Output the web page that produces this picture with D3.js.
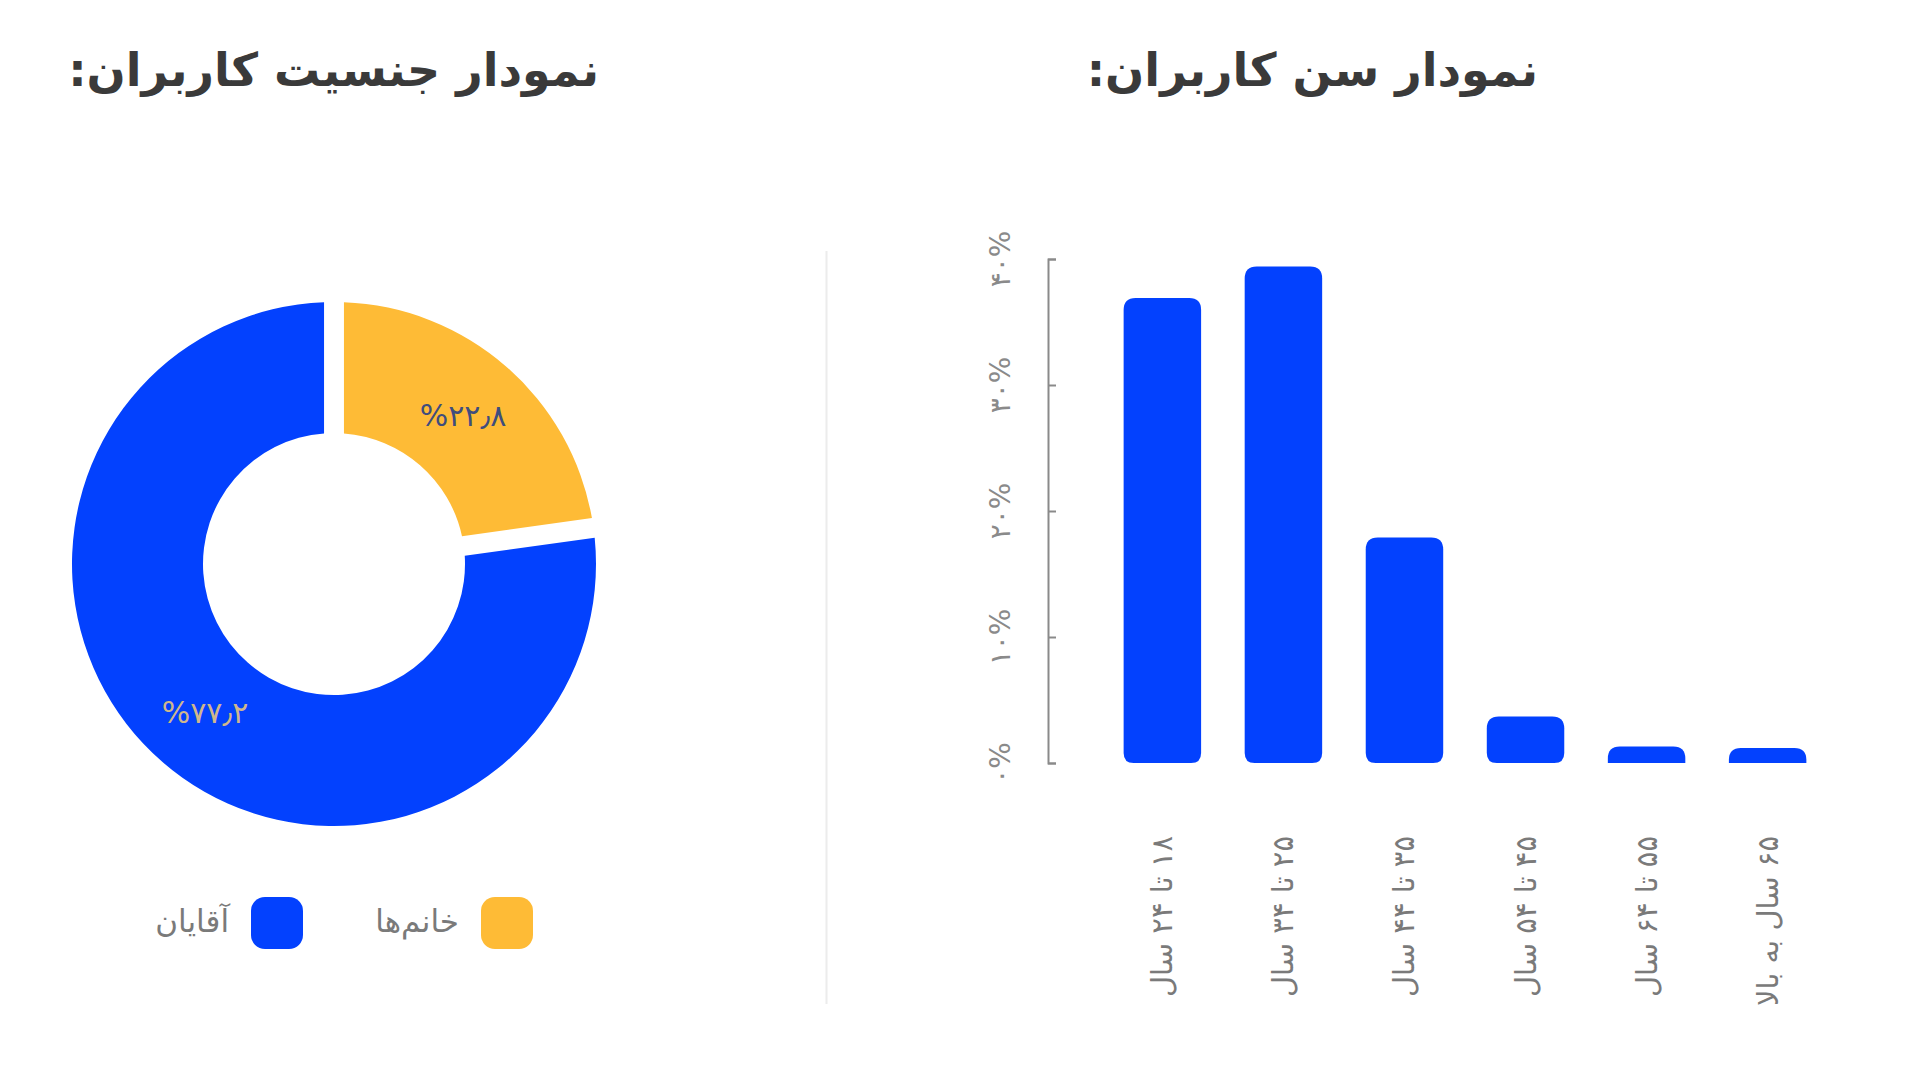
<!DOCTYPE html>
<html>
<head>
<meta charset="utf-8">
<script src="https://cdn.jsdelivr.net/npm/d3@7"></script>
<style>
  body { margin: 0; background: #fff; }
  text { font-family: "DejaVu Sans", sans-serif; }
</style>
</head>
<body>
<div id="chart"></div>
<script>
// chart data
var genderLabels = ["خانم‌ها", "آقایان"];
var genderValues = [22.8, 77.2];
var genderLabelText = ["%۲۲٫۸", "%۷۷٫۲"];

var ageCategories = ["۱۸ تا ۲۴ سال", "۲۵ تا ۳۴ سال", "۳۵ تا ۴۴ سال", "۴۵ تا ۵۴ سال", "۵۵ تا ۶۴ سال", "۶۵ سال به بالا"];
var ageValues = [36.9, 39.4, 17.9, 3.7, 1.3, 1.2];
var ageTicks = [0, 10, 20, 30, 40];

var yellow = "#FEBB36";
var blue = "#0341FE";
var colors = [yellow, blue];

var svgWidth = 1920;
var svgHeight = 1082;

var svg = d3.select("#chart")
  .append("svg")
  .attr("width", svgWidth)
  .attr("height", svgHeight);

// latin digits -> persian digits
function toFa(s) {
  return String(s).replace(/\d/g, d => "۰۱۲۳۴۵۶۷۸۹"[d]);
}

// titles
svg.append("text")
  .attr("x", 599)
  .attr("y", 86)
  .attr("direction", "rtl")
  .attr("text-anchor", "start")
  .style("font-size", "46px")
  .style("font-weight", "bold")
  .style("fill", "#3a3a3a")
  .text("نمودار جنسیت کاربران:");

svg.append("text")
  .attr("x", 1538)
  .attr("y", 86)
  .attr("direction", "rtl")
  .attr("text-anchor", "start")
  .style("font-size", "46px")
  .style("font-weight", "bold")
  .style("fill", "#3a3a3a")
  .text("نمودار سن کاربران:");

// divider
svg.append("line")
  .attr("x1", 826.5).attr("x2", 826.5)
  .attr("y1", 251).attr("y2", 1004)
  .attr("stroke", "#ececec")
  .attr("stroke-width", 2);

// ---------- donut ----------
var cx = 334, cy = 564;
var outerR = 262, innerR = 131;

var pie = d3.pie().sort(null).value(d => d);
var arc = d3.arc()
  .innerRadius(innerR)
  .outerRadius(outerR)
  .padAngle(0.068);
var labelArc = d3.arc().innerRadius(innerR).outerRadius(outerR);

var donut = svg.append("g")
  .attr("transform", `translate(${cx}, ${cy})`);

var arcs = pie(genderValues);

donut.selectAll("path")
  .data(arcs)
  .enter()
  .append("path")
  .attr("d", arc)
  .attr("fill", (d, i) => colors[i]);

donut.selectAll("text")
  .data(arcs)
  .enter()
  .append("text")
  .attr("transform", d => `translate(${labelArc.centroid(d)})`)
  .attr("text-anchor", "middle")
  .attr("dominant-baseline", "central")
  .style("font-size", "30px")
  .style("fill", (d, i) => i === 0 ? "#3f4d7d" : "#cfb78c")
  .text((d, i) => genderLabelText[i]);

// legend
var legendX = [481, 251];
var legend = svg.append("g");
genderLabels.forEach(function(label, i) {
  legend.append("rect")
    .attr("x", legendX[i])
    .attr("y", 897)
    .attr("width", 52)
    .attr("height", 52)
    .attr("rx", 14)
    .attr("fill", colors[i]);
  legend.append("text")
    .attr("x", legendX[i] - 22)
    .attr("y", 921)
    .attr("direction", "rtl")
    .attr("text-anchor", "start")
    .attr("dominant-baseline", "central")
    .style("font-size", "31px")
    .style("fill", "#7a7a7a")
    .text(label);
});

// ---------- bar chart ----------
var axisX = 1048;
var xScale = d3.scaleBand()
  .domain(ageCategories)
  .range([1051, 1879])
  .paddingInner(0.36)
  .paddingOuter(0.6);

var yScale = d3.scaleLinear()
  .domain([0, 40])
  .range([763, 259]);

var yAxis = svg.append("g")
  .attr("transform", `translate(${axisX}, 0)`)
  .call(d3.axisRight(yScale).tickValues(ageTicks).tickSize(8).tickSizeOuter(8).tickFormat(""));

yAxis.select(".domain").attr("stroke", "#8a8a8a").attr("stroke-width", 2);
yAxis.selectAll(".tick line").attr("stroke", "#8a8a8a").attr("stroke-width", 2);

// rotated y tick labels
svg.append("g").selectAll("text")
  .data(ageTicks)
  .enter()
  .append("text")
  .attr("transform", d => `translate(1000, ${yScale(d)}) rotate(-90)`)
  .attr("text-anchor", "middle")
  .attr("dominant-baseline", "central")
  .style("font-size", "28px")
  .style("fill", "#8a8a8a")
  .text(d => toFa(d) + "%");

// bar with rounded corners
function barPath(x, y, w, h) {
  var rt = Math.min(12, h, w / 2);
  var rb = h > 30 ? 10 : 0;
  return `M${x},${y + rt}` +
    `Q${x},${y} ${x + rt},${y}` +
    `H${x + w - rt}` +
    `Q${x + w},${y} ${x + w},${y + rt}` +
    `V${y + h - rb}` +
    `Q${x + w},${y + h} ${x + w - rb},${y + h}` +
    `H${x + rb}` +
    `Q${x},${y + h} ${x},${y + h - rb}Z`;
}

svg.append("g").selectAll("path")
  .data(ageValues)
  .enter()
  .append("path")
  .attr("d", (d, i) => barPath(xScale(ageCategories[i]), yScale(d), xScale.bandwidth(), yScale(0) - yScale(d)))
  .attr("fill", blue);

// rotated x labels
svg.append("g").selectAll("text")
  .data(ageCategories)
  .enter()
  .append("text")
  .attr("transform", d => `translate(${xScale(d) + xScale.bandwidth() / 2}, 836) rotate(-90)`)
  .attr("direction", "rtl")
  .attr("text-anchor", "start")
  .attr("dominant-baseline", "central")
  .style("font-size", "29px")
  .style("fill", "#7a7a7a")
  .text(d => d);
</script>
</body>
</html>
